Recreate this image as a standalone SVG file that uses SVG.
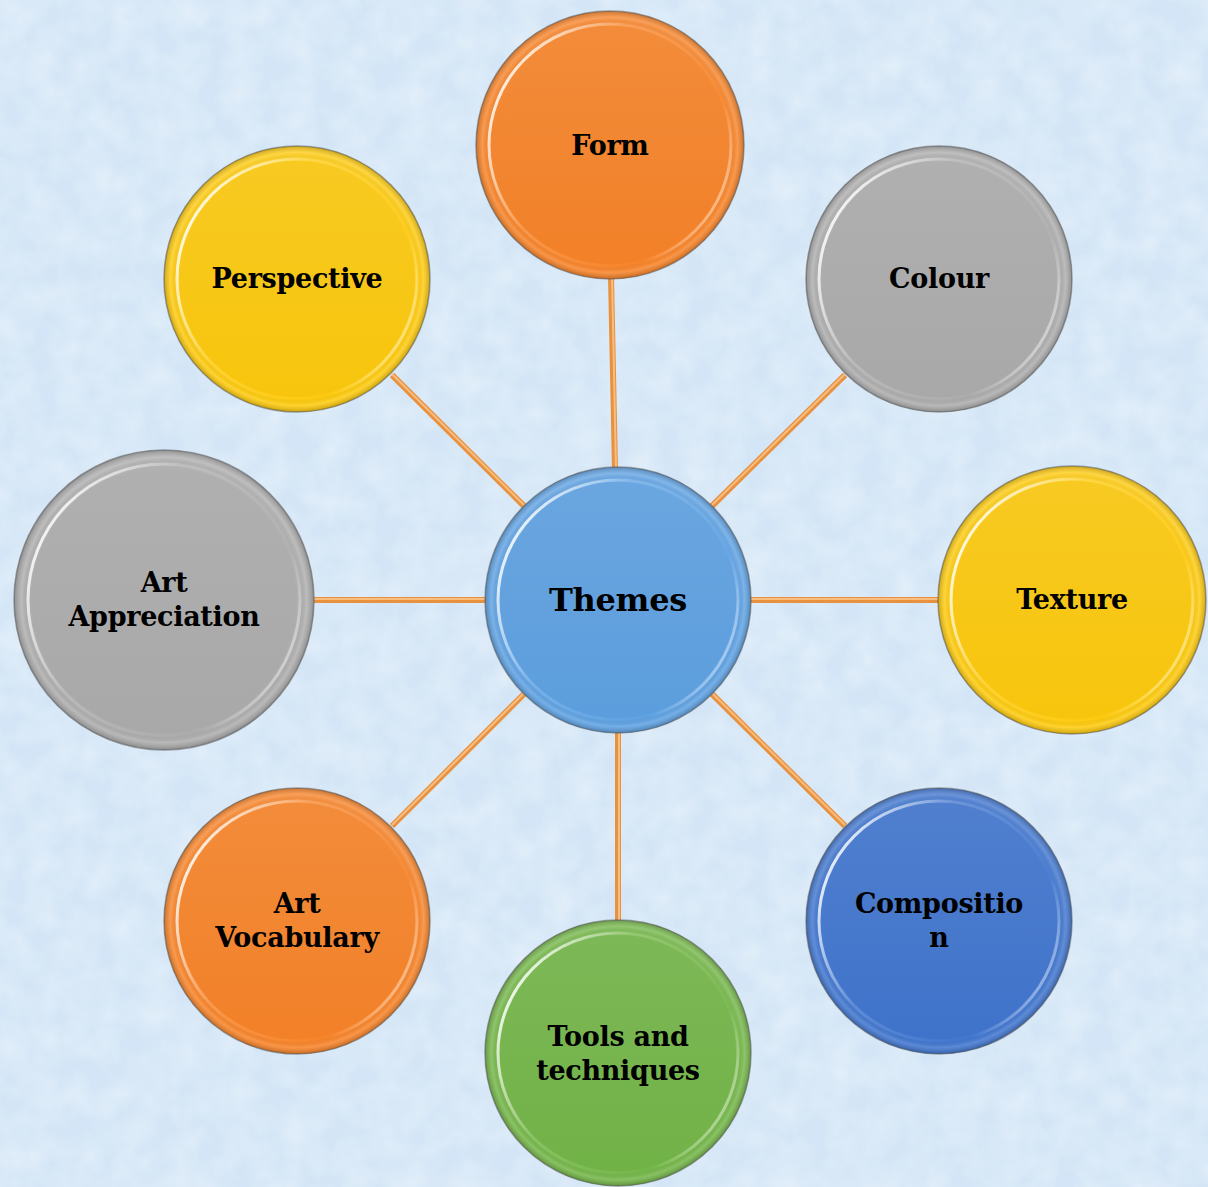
<svg xmlns="http://www.w3.org/2000/svg" width="1208" height="1187" viewBox="0 0 1208 1187">
<defs>
<filter id="tex" x="0" y="0" width="100%" height="100%">
<feTurbulence type="fractalNoise" baseFrequency="0.035" numOctaves="3" seed="4" result="n"/>
<feColorMatrix in="n" type="matrix" values="0 0 0 0 0.78  0 0 0 0 0.87  0 0 0 0 0.96  0 0 0 -1.3 0.95" result="c"/>
<feComposite in="c" in2="SourceGraphic" operator="over"/>
</filter>
<radialGradient id="rim" cx="0.5" cy="0.5" r="0.5">
<stop offset="0.88" stop-color="#000" stop-opacity="0.03"/>
<stop offset="0.9" stop-color="#000" stop-opacity="0"/>
<stop offset="0.95" stop-color="#fff" stop-opacity="0.14"/>
<stop offset="1" stop-color="#000" stop-opacity="0.2"/>
</radialGradient>
<linearGradient id="hl" x1="0" y1="0.25" x2="1" y2="0.75">
<stop offset="0" stop-color="#fff" stop-opacity="0.95"/>
<stop offset="0.35" stop-color="#fff" stop-opacity="0.15"/>
<stop offset="0.8" stop-color="#fff" stop-opacity="0"/>
<stop offset="1" stop-color="#fff" stop-opacity="0.55"/>
</linearGradient>
<linearGradient id="shade" x1="0" y1="0" x2="0" y2="1">
<stop offset="0" stop-color="#fff" stop-opacity="0.1"/>
<stop offset="1" stop-color="#fff" stop-opacity="0"/>
</linearGradient>
</defs>
<style>
.lbl{font-family:"DejaVu Serif","Liberation Serif",serif;font-weight:bold;font-size:27px;fill:#000;text-anchor:middle;letter-spacing:-0.3px}
.big{font-size:32px}
.edge{stroke:#e8913f;stroke-width:6;stroke-linecap:butt}
.edgehi{stroke:#f8bd80;stroke-width:2}
.outline{fill:none;stroke:#5a5a5a;stroke-opacity:0.55;stroke-width:1.5}
.rimc{fill:url(#rim)}
.top{fill:url(#shade)}
.hi{fill:none;stroke:url(#hl);stroke-width:3}
.orange{fill:#f98428}
.gray{fill:#adadad}
.yellow{fill:#ffcb0c}
.lblue{fill:#5ea2e4}
.dblue{fill:#4076d0}
.green{fill:#74b748}
</style>
<rect width="1208" height="1187" fill="#d3e5f6"/>
<rect width="1208" height="1187" fill="#d3e5f6" filter="url(#tex)"/>
<g id="connectors">
<line class="edge" x1="611" y1="276" x2="615" y2="470"/>
<line class="edge" x1="392" y1="375" x2="524" y2="506"/>
<line class="edge" x1="845" y1="375" x2="712" y2="506"/>
<line class="edge" x1="314" y1="600" x2="487" y2="600"/>
<line class="edge" x1="750" y1="600" x2="940" y2="600"/>
<line class="edge" x1="392" y1="826" x2="524" y2="694"/>
<line class="edge" x1="618" y1="731" x2="618" y2="922"/>
<line class="edge" x1="845" y1="826" x2="712" y2="694"/>
<line class="edgehi" x1="612" y1="276" x2="616" y2="470"/>
<line class="edgehi" x1="392" y1="374" x2="524" y2="505"/>
<line class="edgehi" x1="845" y1="374" x2="712" y2="505"/>
<line class="edgehi" x1="314" y1="599" x2="487" y2="599"/>
<line class="edgehi" x1="750" y1="599" x2="940" y2="599"/>
<line class="edgehi" x1="392" y1="825" x2="524" y2="693"/>
<line class="edgehi" x1="619" y1="731" x2="619" y2="922"/>
<line class="edgehi" x1="845" y1="825" x2="712" y2="693"/>
</g>
<g id="node-form">
<circle class="orange" cx="610" cy="145" r="134"/>
<circle class="top" cx="610" cy="145" r="134"/>
<circle class="rimc" cx="610" cy="145" r="134"/>
<circle class="hi" cx="610" cy="145" r="121"/>
<circle class="outline" cx="610" cy="145" r="134"/>
<text class="lbl" x="610" y="155">Form</text>
</g>
<g id="node-perspective">
<circle class="yellow" cx="297" cy="279" r="133"/>
<circle class="top" cx="297" cy="279" r="133"/>
<circle class="rimc" cx="297" cy="279" r="133"/>
<circle class="hi" cx="297" cy="279" r="120"/>
<circle class="outline" cx="297" cy="279" r="133"/>
<text class="lbl" x="297" y="288">Perspective</text>
</g>
<g id="node-colour">
<circle class="gray" cx="939" cy="279" r="133"/>
<circle class="top" cx="939" cy="279" r="133"/>
<circle class="rimc" cx="939" cy="279" r="133"/>
<circle class="hi" cx="939" cy="279" r="120"/>
<circle class="outline" cx="939" cy="279" r="133"/>
<text class="lbl" x="939" y="288">Colour</text>
</g>
<g id="node-themes">
<circle class="lblue" cx="618" cy="600" r="133"/>
<circle class="top" cx="618" cy="600" r="133"/>
<circle class="rimc" cx="618" cy="600" r="133"/>
<circle class="hi" cx="618" cy="600" r="120"/>
<circle class="outline" cx="618" cy="600" r="133"/>
<text class="lbl big" x="618" y="611">Themes</text>
</g>
<g id="node-art-appreciation">
<circle class="gray" cx="164" cy="600" r="150"/>
<circle class="top" cx="164" cy="600" r="150"/>
<circle class="rimc" cx="164" cy="600" r="150"/>
<circle class="hi" cx="164" cy="600" r="136"/>
<circle class="outline" cx="164" cy="600" r="150"/>
<text class="lbl" x="164" y="592">Art</text>
<text class="lbl" x="164" y="626">Appreciation</text>
</g>
<g id="node-texture">
<circle class="yellow" cx="1072" cy="600" r="134"/>
<circle class="top" cx="1072" cy="600" r="134"/>
<circle class="rimc" cx="1072" cy="600" r="134"/>
<circle class="hi" cx="1072" cy="600" r="121"/>
<circle class="outline" cx="1072" cy="600" r="134"/>
<text class="lbl" x="1072" y="609">Texture</text>
</g>
<g id="node-art-vocabulary">
<circle class="orange" cx="297" cy="921" r="133"/>
<circle class="top" cx="297" cy="921" r="133"/>
<circle class="rimc" cx="297" cy="921" r="133"/>
<circle class="hi" cx="297" cy="921" r="120"/>
<circle class="outline" cx="297" cy="921" r="133"/>
<text class="lbl" x="297" y="913">Art</text>
<text class="lbl" x="297" y="947">Vocabulary</text>
</g>
<g id="node-tools">
<circle class="green" cx="618" cy="1053" r="133"/>
<circle class="top" cx="618" cy="1053" r="133"/>
<circle class="rimc" cx="618" cy="1053" r="133"/>
<circle class="hi" cx="618" cy="1053" r="120"/>
<circle class="outline" cx="618" cy="1053" r="133"/>
<text class="lbl" x="618" y="1046">Tools and</text>
<text class="lbl" x="618" y="1080">techniques</text>
</g>
<g id="node-composition">
<circle class="dblue" cx="939" cy="921" r="133"/>
<circle class="top" cx="939" cy="921" r="133"/>
<circle class="rimc" cx="939" cy="921" r="133"/>
<circle class="hi" cx="939" cy="921" r="120"/>
<circle class="outline" cx="939" cy="921" r="133"/>
<text class="lbl" x="939" y="913">Compositio</text>
<text class="lbl" x="939" y="947">n</text>
</g>
</svg>
